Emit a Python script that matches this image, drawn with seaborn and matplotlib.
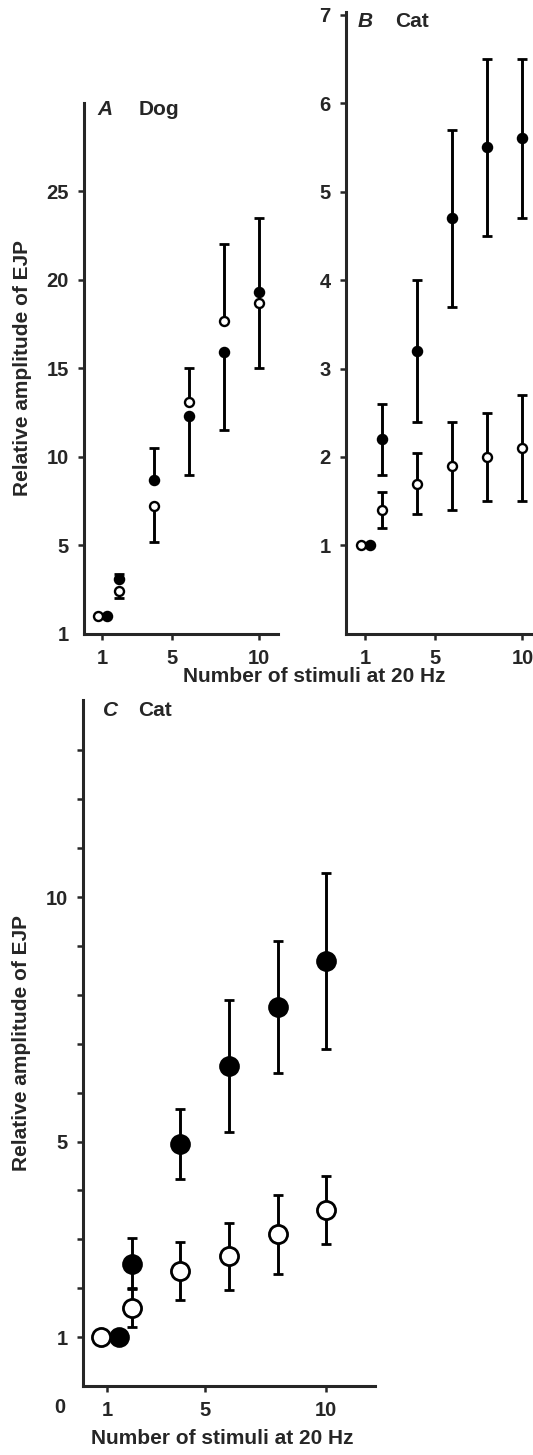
import matplotlib
matplotlib.use("Agg")
import matplotlib.pyplot as plt
import seaborn as sns

sns.set_style("ticks")
plt.rcParams['font.family'] = ['Liberation Sans', 'DejaVu Sans']
plt.rcParams['font.weight'] = 'bold'

# === Data ===
# Panel A: dog
a_x_fill = [1.3, 2, 4, 6, 8, 10]
a_y_fill = [1.0, 3.1, 8.7, 12.3, 15.9, 19.3]
a_lo_fill = [0, 0, 0, 3.3, 4.4, 0]
a_hi_fill = [0, 0.3, 1.8, 0, 0, 4.2]
a_x_open = [0.8, 2, 4, 6, 8, 10]
a_y_open = [1.0, 2.4, 7.2, 13.1, 17.7, 18.7]
a_lo_open = [0, 0.35, 2.0, 0, 0, 3.65]
a_hi_open = [0, 0, 0, 1.95, 4.3, 0]

# Panel B: cat
b_x_fill = [1.3, 2, 4, 6, 8, 10]
b_y_fill = [1.0, 2.2, 3.2, 4.7, 5.5, 5.6]
b_err_fill = [0, 0.4, 0.8, 1.0, 1.0, 0.9]
b_x_open = [0.75, 2, 4, 6, 8, 10]
b_y_open = [1.0, 1.4, 1.7, 1.9, 2.0, 2.1]
b_err_open = [0, 0.2, 0.35, 0.5, 0.5, 0.6]

# Panel C: cat
c_x_fill = [1.5, 2, 4, 6, 8, 10]
c_y_fill = [1.0, 2.5, 4.95, 6.55, 7.75, 8.7]
c_err_fill = [0, 0.52, 0.72, 1.35, 1.35, 1.8]
c_x_open = [0.75, 2, 4, 6, 8, 10]
c_y_open = [1.0, 1.6, 2.35, 2.65, 3.1, 3.6]
c_err_open = [0, 0.4, 0.6, 0.68, 0.8, 0.7]

ylab = "Relative amplitude of EJP"
xlab = "Number of stimuli at 20 Hz"

fig = plt.figure(figsize=(5.33, 14.55), dpi=100)
axA = fig.add_axes([0.1576, 0.5643, 0.364, 0.365])
axB = fig.add_axes([0.6492, 0.5643, 0.3508, 0.4275])
axC = fig.add_axes([0.1557, 0.0474, 0.5478, 0.4715])

fs = 15
tfs = 14.5


def style(ax):
    sns.despine(ax=ax)
    for s in ['left', 'bottom']:
        ax.spines[s].set_linewidth(2.2)
    ax.tick_params(direction='out', length=4, width=1.8, pad=7, labelsize=tfs)
    for lab in ax.get_xticklabels() + ax.get_yticklabels():
        lab.set_fontweight('bold')


def draw(ax, x, y, lo, hi, face, size, lw):
    ax.errorbar(x, y, yerr=[lo, hi], fmt='none', ecolor='black',
                elinewidth=2.1, capsize=3.6, capthick=2, zorder=2)
    sns.scatterplot(x=x, y=y, ax=ax, s=size, color=face, edgecolor='black',
                    linewidth=lw, zorder=3, legend=False)


# === A ===
draw(axA, a_x_fill, a_y_fill, a_lo_fill, a_hi_fill, 'black', 50, 1.2)
draw(axA, a_x_open, a_y_open, a_lo_open, a_hi_open, 'white', 42, 1.7)
axA.set_xlim(-0.03, 11.1)
axA.set_ylim(0, 30)
axA.set_xticks([1, 5, 10])
axA.set_yticks([0, 5, 10, 15, 20, 25])
axA.set_yticklabels(['1', '5', '10', '15', '20', '25'])
style(axA)
axA.yaxis.get_major_ticks()[0].tick1line.set_visible(False)
axA.set_ylabel(ylab, fontsize=fs, fontweight='bold')
axA.yaxis.set_label_coords(-0.27, 0.5)
axA.text(0.07, 0.987, "A", transform=axA.transAxes, fontsize=fs,
         fontstyle='italic', fontweight='bold', va='center')
axA.text(0.28, 0.987, "Dog", transform=axA.transAxes, fontsize=fs,
         fontweight='bold', va='center')

# === B ===
draw(axB, b_x_fill, b_y_fill, b_err_fill, b_err_fill, 'black', 50, 1.2)
draw(axB, b_x_open, b_y_open, b_err_open, b_err_open, 'white', 42, 1.7)
axB.set_xlim(-0.08, 10.6)
axB.set_ylim(0, 7.03)
axB.set_xticks([1, 5, 10])
axB.set_yticks([1, 2, 3, 4, 5, 6, 7])
style(axB)
axB.text(0.06, 0.985, "B", transform=axB.transAxes, fontsize=fs,
         fontstyle='italic', fontweight='bold', va='center')
axB.text(0.26, 0.985, "Cat", transform=axB.transAxes, fontsize=fs,
         fontweight='bold', va='center')

fig.text(314 / 533, 1 - 677 / 1455, xlab, fontsize=fs, fontweight='bold',
         ha='center', va='center')

# === C ===
draw(axC, c_x_fill, c_y_fill, c_err_fill, c_err_fill, 'black', 180, 1.5)
draw(axC, c_x_open, c_y_open, c_err_open, c_err_open, 'white', 170, 2.0)
axC.set_xlim(0, 12)
axC.set_ylim(0, 14.03)
axC.set_xticks([1, 5, 10])
axC.set_yticks(list(range(1, 14)))
axC.set_yticklabels([str(v) if v in (1, 5, 10) else '' for v in range(1, 14)])
style(axC)
axC.set_ylabel(ylab, fontsize=fs, fontweight='bold')
axC.yaxis.set_label_coords(-0.177, 0.5)
axC.set_xlabel(xlab, fontsize=fs, fontweight='bold')
axC.xaxis.set_label_coords(0.476, -0.063)
axC.text(-0.08, -0.032, "0", transform=axC.transAxes, fontsize=tfs,
         fontweight='bold', ha='center', va='center')
axC.text(0.068, 0.985, "C", transform=axC.transAxes, fontsize=fs,
         fontstyle='italic', fontweight='bold', va='center')
axC.text(0.19, 0.985, "Cat", transform=axC.transAxes, fontsize=fs,
         fontweight='bold', va='center')

fig.savefig("out.png", dpi=100)
plt.close(fig)
